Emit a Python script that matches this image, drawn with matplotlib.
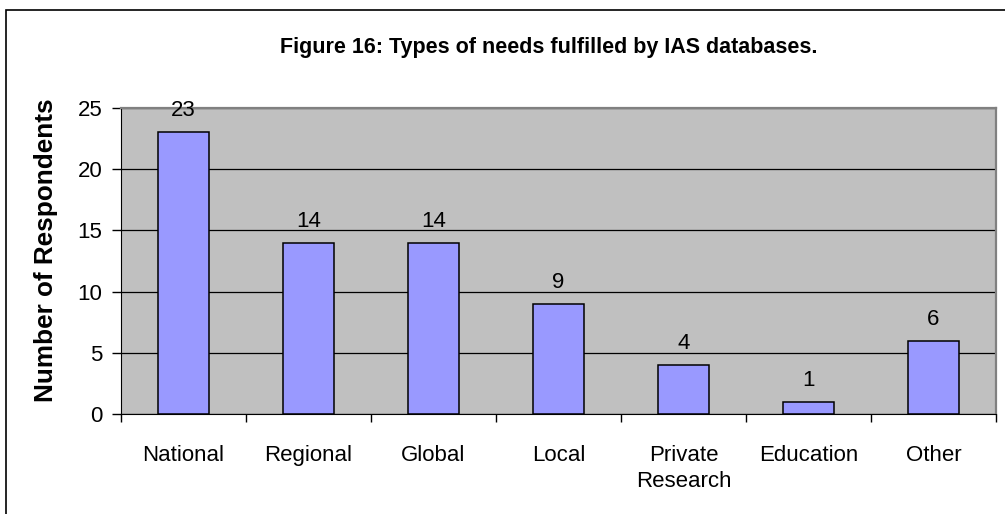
import matplotlib.pyplot as plt
from matplotlib.patches import Rectangle
from matplotlib.ticker import FixedLocator, NullFormatter

plt.rcParams['font.family'] = ['Liberation Sans', 'DejaVu Sans']

# Survey data
needs = ["National", "Regional", "Global", "Local", "Private\nResearch", "Education", "Other"]
respondents = [23, 14, 14, 9, 4, 1, 6]
y_ticks = [0, 5, 10, 15, 20, 25]

fig = plt.figure(figsize=(10.05, 5.14), dpi=100)

# Outer chart frame (runs off the right and bottom edges)
fig.patches.append(Rectangle((6 / 1005, -0.05), 1.1, 1 - 10 / 514 + 0.05,
                             transform=fig.transFigure, fill=False,
                             edgecolor='black', linewidth=1.2))

ax = fig.add_axes([121 / 1005, 1 - 414 / 514, 875 / 1005, 306 / 514])
ax.set_facecolor('#C0C0C0')

x = range(len(needs))
bars = ax.bar(x, respondents, width=0.41, color='#9999FF',
              edgecolor='black', linewidth=1.1, zorder=3)

for xi, v in zip(x, respondents):
    ax.annotate(str(v), (xi, v), xytext=(0, 15.5), textcoords='offset points',
                ha='center', va='center', fontsize=16)

ax.set_xlim(-0.5, len(needs) - 0.5)
ax.set_ylim(0, 25)
ax.set_yticks(y_ticks)
ax.set_yticklabels([str(t) for t in y_ticks], fontsize=16)
ax.yaxis.grid(True, color='black', linewidth=0.9, zorder=1)
ax.set_axisbelow(True)

ax.set_xticks(list(x))
ax.set_xticklabels(needs, fontsize=16, linespacing=1.35, va='top')
ax.tick_params(axis='x', which='major', length=0, pad=22)
ax.xaxis.set_minor_locator(FixedLocator([i - 0.5 for i in range(len(needs) + 1)]))
ax.xaxis.set_minor_formatter(NullFormatter())
ax.tick_params(axis='x', which='minor', length=6, width=1, direction='out')
ax.tick_params(axis='y', length=6.5, width=1, direction='out', pad=7)

for side in ['top', 'right']:
    ax.spines[side].set_color('#808080')
    ax.spines[side].set_linewidth(1.6)
ax.spines['left'].set_color('black')
ax.spines['bottom'].set_color('black')

ax.set_ylabel("Number of Respondents", fontsize=18.8, fontweight='bold', va='center')
ax.yaxis.set_label_coords(-0.0857, 0.536)

fig.text(549 / 1005, 1 - 48 / 514, "Figure 16: Types of needs fulfilled by IAS databases.",
         ha='center', va='center', fontsize=15.5, fontweight='bold')

fig.savefig("out.png", dpi=100, facecolor='white')
